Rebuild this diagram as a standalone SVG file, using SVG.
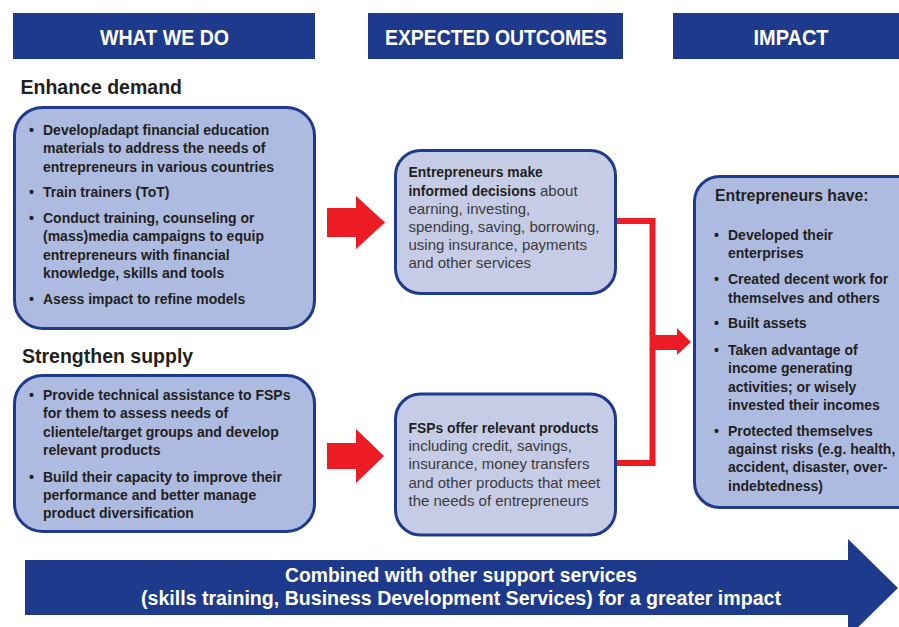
<svg xmlns="http://www.w3.org/2000/svg" width="899" height="627" viewBox="0 0 899 627">
<style>
text{font-family:"Liberation Sans",Arial,sans-serif;}
.hdr{fill:#ffffff;font-weight:bold;font-size:22px;text-anchor:middle;}
.hbox{fill:#1e3a8c;}
.ttl{fill:#231f20;font-weight:bold;font-size:19.5px;}
.b{fill:#231f20;font-weight:bold;font-size:14px;}
.ob{fill:#231f20;font-weight:bold;font-size:13.9px;}
.r{fill:#3a3a3a;font-size:15px;}
.box{fill:#adbbe0;stroke:#1e3a8c;stroke-width:3;}
.obox{fill:#c6cce6;stroke:#1e3a8c;stroke-width:3;}
.red{fill:#ed1c24;}
.redl{fill:none;stroke:#ed1c24;stroke-width:6;}
.bt{fill:#ffffff;font-weight:bold;font-size:20px;text-anchor:middle;}
</style>
<rect width="899" height="627" fill="#ffffff"/>

<g id="header-what">
<rect class="hbox" x="13" y="13" width="302" height="46"/>
<text class="hdr" x="164.5" y="45" textLength="129" lengthAdjust="spacingAndGlyphs">WHAT WE DO</text>
</g>
<g id="header-outcomes">
<rect class="hbox" x="368" y="13" width="255" height="46"/>
<text class="hdr" x="496" y="45" textLength="222" lengthAdjust="spacingAndGlyphs">EXPECTED OUTCOMES</text>
</g>
<g id="header-impact">
<rect class="hbox" x="673" y="13" width="236" height="46"/>
<text class="hdr" x="791" y="45" textLength="75" lengthAdjust="spacingAndGlyphs">IMPACT</text>
</g>

<g id="demand">
<text class="ttl" x="20.5" y="94">Enhance demand</text>
<rect class="box" x="14.5" y="107.5" width="300" height="221" rx="28"/>
<text class="b" x="29" y="135">•</text>
<text class="b" x="43" y="135">Develop/adapt financial education</text>
<text class="b" x="43" y="153.3">materials to address the needs of</text>
<text class="b" x="43" y="171.6">entrepreneurs in various countries</text>
<text class="b" x="29" y="197">•</text>
<text class="b" x="43" y="197">Train trainers (ToT)</text>
<text class="b" x="29" y="223">•</text>
<text class="b" x="43" y="223">Conduct training, counseling or</text>
<text class="b" x="43" y="241.3">(mass)media campaigns to equip</text>
<text class="b" x="43" y="259.6">entrepreneurs with financial</text>
<text class="b" x="43" y="277.9">knowledge, skills and tools</text>
<text class="b" x="29" y="304">•</text>
<text class="b" x="43" y="304">Asess impact to refine models</text>
</g>

<g id="supply">
<text class="ttl" x="22" y="363">Strengthen supply</text>
<rect class="box" x="14.5" y="375.5" width="300" height="156" rx="28"/>
<text class="b" x="29" y="400">•</text>
<text class="b" x="43" y="400">Provide technical assistance to FSPs</text>
<text class="b" x="43" y="418.3">for them to assess needs of</text>
<text class="b" x="43" y="436.6">clientele/target groups and develop</text>
<text class="b" x="43" y="454.9">relevant products</text>
<text class="b" x="29" y="481.7">•</text>
<text class="b" x="43" y="481.7">Build their capacity to improve their</text>
<text class="b" x="43" y="500">performance and better manage</text>
<text class="b" x="43" y="518.3">product diversification</text>
</g>

<g id="outcome-decisions">
<rect class="obox" x="395.5" y="150.5" width="220" height="143" rx="25"/>
<text class="ob" x="408.5" y="177.3">Entrepreneurs make</text>
<text x="408.5" y="195.5"><tspan class="ob">informed decisions</tspan><tspan class="r"> about</tspan></text>
<text class="r" x="408.5" y="213.5">earning, investing,</text>
<text class="r" x="408.5" y="231.7">spending, saving, borrowing,</text>
<text class="r" x="408.5" y="250">using insurance, payments</text>
<text class="r" x="408.5" y="268.3">and other services</text>
</g>

<g id="outcome-products">
<rect class="obox" x="395.5" y="394" width="220" height="141" rx="25"/>
<text class="ob" x="408.5" y="432.7">FSPs offer relevant products</text>
<text class="r" x="408.5" y="451">including credit, savings,</text>
<text class="r" x="408.5" y="469.3">insurance, money transfers</text>
<text class="r" x="408.5" y="487.5">and other products that meet</text>
<text class="r" x="408.5" y="505.7">the needs of entrepreneurs</text>
</g>

<g id="impact">
<rect class="box" x="694.5" y="176.5" width="230" height="331" rx="25"/>
<text class="ttl" x="715" y="200.7" style="font-size:15.8px">Entrepreneurs have:</text>
<text class="b" x="714" y="240">•</text>
<text class="b" x="728" y="240">Developed their</text>
<text class="b" x="728" y="258.3">enterprises</text>
<text class="b" x="714" y="284">•</text>
<text class="b" x="728" y="284">Created decent work for</text>
<text class="b" x="728" y="302.5">themselves and others</text>
<text class="b" x="714" y="328.3">•</text>
<text class="b" x="728" y="328.3">Built assets</text>
<text class="b" x="714" y="355">•</text>
<text class="b" x="728" y="355">Taken advantage of</text>
<text class="b" x="728" y="373.3">income generating</text>
<text class="b" x="728" y="391.6">activities; or wisely</text>
<text class="b" x="728" y="410">invested their incomes</text>
<text class="b" x="714" y="435.7">•</text>
<text class="b" x="728" y="435.7">Protected themselves</text>
<text class="b" x="728" y="454">against risks (e.g. health,</text>
<text class="b" x="728" y="472.3">accident, disaster, over-</text>
<text class="b" x="728" y="490.6">indebtedness)</text>
</g>

<g id="connectors">
<polygon class="red" points="327,208 356,208 356,196 385,222.5 356,249 356,237 327,237"/>
<polygon class="red" points="327,443 356,443 356,429 384,456 356,483 356,469 327,469"/>
<polyline class="redl" points="617,221 652.5,221 652.5,463 617,463"/>
<polygon class="red" points="652,335 677,335 677,328 691,342 677,355 677,350 652,350"/>
</g>

<g id="support-arrow">
<polygon fill="#1e3a8c" points="25,560 848,560 848,539 898,588 848,637 848,615 25,615"/>
<text class="bt" x="461" y="582" textLength="352" lengthAdjust="spacingAndGlyphs">Combined with other support services</text>
<text class="bt" x="461" y="605" textLength="640" lengthAdjust="spacingAndGlyphs">(skills training, Business Development Services) for a greater impact</text>
</g>
</svg>
